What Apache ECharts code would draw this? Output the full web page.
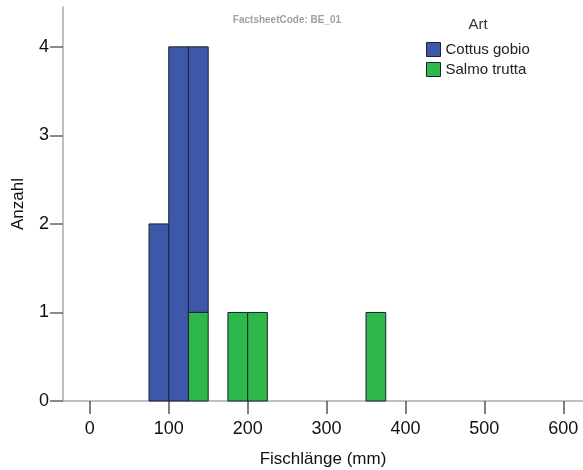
<!DOCTYPE html>
<html>
<head>
<meta charset="utf-8">
<script src="https://cdn.jsdelivr.net/npm/echarts@6/dist/echarts.min.js"></script>
<style>html,body{margin:0;padding:0;background:#fff}#c{width:583px;height:470px}</style>
</head>
<body>
<div id="c"></div>
<script>
// ---- data ----
const binWidth = 25;
const cottusBinStart = [75, 100, 125];
const cottusCount = [2, 4, 3];
const salmoBinStart = [125, 175, 200, 350];
const salmoCount = [1, 1, 1, 1];
const xTicks = [0, 100, 200, 300, 400, 500, 600];
const yTicks = [0, 1, 2, 3, 4];
const seriesNames = ['Cottus gobio', 'Salmo trutta'];
const legendTitle = 'Art';
const codeLabel = 'FactsheetCode: BE_01';

// ---- build ----
const colors = ['#3d57a9', '#2eb74a'];
const salmoData = salmoBinStart.map((s, i) => [s, s + binWidth, 0, salmoCount[i]]);
const cottusData = cottusBinStart.map((s, i) => {
  const j = salmoBinStart.indexOf(s);
  const base = j >= 0 ? salmoCount[j] : 0;
  return [s, s + binWidth, base, base + cottusCount[i]];
});

function renderBin(params, api) {
  const p0 = api.coord([api.value(0), api.value(3)]);
  const p1 = api.coord([api.value(1), api.value(2)]);
  return {
    type: 'rect',
    shape: { x: p0[0], y: p0[1], width: p1[0] - p0[0], height: p1[1] - p0[1] },
    style: api.style({ stroke: '#1d2330', lineWidth: 1 })
  };
}

const chart = echarts.init(document.getElementById('c'), null, { renderer: 'canvas' });
const font = 'Liberation Sans, Arial, sans-serif';
chart.setOption({
  animation: false,
  textStyle: { fontFamily: font },
  grid: { left: 63, right: 0, top: 7, bottom: 69, containLabel: false, outerBoundsMode: 'none' },
  graphic: [
    { type: 'text', x: 287, y: 20, style: { text: codeLabel, textAlign: 'center', textVerticalAlign: 'middle', font: 'bold 10px ' + font, fill: '#a0a0a0' } },
    { type: 'text', x: 478, y: 25, style: { text: legendTitle, textAlign: 'center', textVerticalAlign: 'middle', font: '15px ' + font, fill: '#333' } }
  ],
  legend: {
    orient: 'vertical', left: 426, top: 42, padding: 0, itemWidth: 14, itemHeight: 14, itemGap: 5,
    icon: 'rect',
    textStyle: { fontSize: 15, color: '#222', fontFamily: font },
    data: seriesNames.map((n, i) => ({ name: n, itemStyle: { color: colors[i], borderColor: '#1d2330', borderWidth: 1 } }))
  },
  xAxis: {
    type: 'value', min: -34, max: 625,
    name: 'Fischlänge (mm)', nameLocation: 'middle', nameGap: 50,
    nameTextStyle: { fontSize: 17, color: '#111', fontFamily: font },
    splitLine: { show: false },
    axisLine: { show: true, onZero: false, lineStyle: { color: '#aaaaaa', width: 1.5 } },
    axisTick: { show: true, length: 13, customValues: xTicks, lineStyle: { color: '#555', width: 1.5 } },
    axisLabel: { customValues: xTicks, fontSize: 18, color: '#111', margin: 19, fontFamily: font }
  },
  yAxis: {
    type: 'value', min: 0, max: 4.45,
    name: 'Anzahl', nameLocation: 'middle', nameGap: 36,
    nameTextStyle: { fontSize: 17, color: '#111', fontFamily: font },
    splitLine: { show: false },
    axisLine: { show: true, onZero: false, lineStyle: { color: '#aaaaaa', width: 1.5 } },
    axisTick: { show: true, length: 13, customValues: yTicks, lineStyle: { color: '#666', width: 1.5 } },
    axisLabel: { customValues: yTicks, fontSize: 18, color: '#111', margin: 14, fontFamily: font }
  },
  series: [
    { name: seriesNames[0], type: 'custom', renderItem: renderBin, itemStyle: { color: colors[0] }, encode: { x: [0, 1], y: [2, 3] }, data: cottusData },
    { name: seriesNames[1], type: 'custom', renderItem: renderBin, itemStyle: { color: colors[1] }, encode: { x: [0, 1], y: [2, 3] }, data: salmoData }
  ]
});
</script>
</body>
</html>
